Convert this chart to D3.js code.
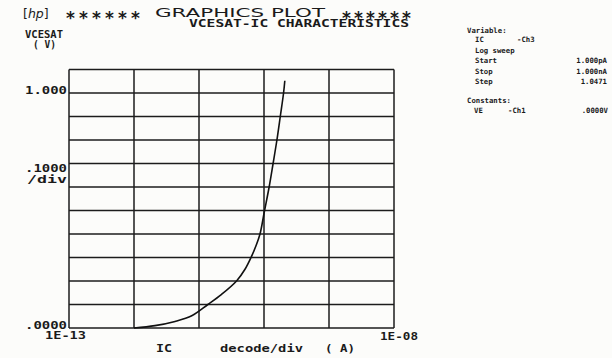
<!DOCTYPE html>
<html>
<head>
<meta charset="utf-8">
<script src="https://cdn.jsdelivr.net/npm/d3@7"></script>
<style>
  body { margin: 0; background: #fcfcfa; }
  svg { display: block; }
  text { fill: #1a1a1a; }
</style>
</head>
<body>
<div id="plot"></div>
<script>
// Canvas
const width = 612,
      height = 358

const icValues = [1e-12, 2.1e-12, 4.28e-12, 7.73e-12, 1.37e-11, 2.2e-11, 3.78e-11, 5.1e-11, 6.31e-11, 7.53e-11, 8.68e-11, 1.02e-10, 1.2e-10, 1.38e-10, 1.58e-10, 1.78e-10, 2.0e-10, 2.09e-10]
const vceValues = [0, 0.01, 0.028, 0.052, 0.1, 0.142, 0.2, 0.25, 0.3, 0.35, 0.4, 0.5, 0.6, 0.7, 0.8, 0.9, 1.0, 1.052]

// Axis ticks
const xDecades = [1e-13, 1e-12, 1e-11, 1e-10, 1e-9, 1e-8]
const xTickLabels = ['1E-13', '1E-08']
const yGrid = [0, 0.1, 0.2, 0.3, 0.4, 0.5, 0.6, 0.7, 0.8, 0.9, 1.0, 1.1]
const yTickValues = [0, 1.0]
const yTickLabels = ['.0000', '1.000']

// Right hand panel
const varRows = [
  ['IC', '-Ch3', ''],
  ['Log sweep', '', ''],
  ['Start', '', '1.000pA'],
  ['Stop', '', '1.000nA'],
  ['Step', '', '1.0471']
]
const constRows = [['VE', '-Ch1', '.0000V']]

const svg = d3.select('#plot')
  .append('svg')
  .attr('width', width)
  .attr('height', height)

const x = d3.scaleLog().domain([1e-13, 1e-8]).range([69, 394])
const y = d3.scaleLinear().domain([0, 1.1]).range([328, 69.5])

const mono = '"DejaVu Sans Mono", monospace'

// grid
const grid = svg.append('g').attr('stroke', '#1c1c1c').attr('stroke-width', 1.5)
grid.selectAll('line.v')
  .data(xDecades)
  .enter()
  .append('line')
  .attr('x1', d => x(d)).attr('x2', d => x(d))
  .attr('y1', y(1.1)).attr('y2', y(0))
grid.selectAll('line.h')
  .data(yGrid)
  .enter()
  .append('line')
  .attr('x1', x(1e-13)).attr('x2', x(1e-8))
  .attr('y1', d => y(d)).attr('y2', d => y(d))

// curve
const line = d3.line()
  .x((d, i) => x(icValues[i]))
  .y(d => y(d))
  .curve(d3.curveCatmullRom.alpha(0.5))
svg.append('path')
  .datum(vceValues)
  .attr('d', line)
  .attr('fill', 'none')
  .attr('stroke', '#111')
  .attr('stroke-width', 1.6)

// titles
const title = svg.append('g').attr('font-family', mono)
title.append('text').attr('x', 23).attr('y', 17.5)
  .attr('font-size', 12.5).attr('font-family', '"DejaVu Sans"')
  .html('[<tspan font-style="italic">hp</tspan>]')
title.append('text').attr('x', 66).attr('y', 24)
  .attr('font-size', 17).attr('font-weight', 'bold').attr('font-family', '"DejaVu Sans"')
  .attr('textLength', 74).attr('lengthAdjust', 'spacing')
  .text('******')
title.append('text').attr('x', 155).attr('y', 16.5)
  .attr('font-size', 12).attr('font-family', '"DejaVu Sans"')
  .attr('textLength', 170).attr('lengthAdjust', 'spacingAndGlyphs')
  .text('GRAPHICS PLOT')
title.append('text').attr('x', 342).attr('y', 24)
  .attr('font-size', 17).attr('font-weight', 'bold').attr('font-family', '"DejaVu Sans"')
  .attr('textLength', 69).attr('lengthAdjust', 'spacing')
  .text('******')
title.append('text').attr('x', 189).attr('y', 26.5)
  .attr('font-size', 10).attr('font-weight', 'bold')
  .attr('textLength', 220).attr('lengthAdjust', 'spacingAndGlyphs')
  .text('VCESAT-IC CHARACTERISTICS')

// axis labels
const lab = svg.append('g').attr('font-family', mono).attr('font-weight', 'bold').attr('font-size', 10)
const addLab = (t, xx, yy, w) => lab.append('text')
  .attr('x', xx).attr('y', yy)
  .attr('textLength', w).attr('lengthAdjust', 'spacingAndGlyphs')
  .text(t)

addLab('VCESAT', 25, 38, 38)
addLab('( V)', 33, 48, 23)
lab.selectAll('text.yt')
  .data(yTickValues)
  .enter()
  .append('text')
  .attr('x', 25)
  .attr('y', d => y(d) + 0.5)
  .attr('textLength', 42).attr('lengthAdjust', 'spacingAndGlyphs')
  .text((d, i) => yTickLabels[i])
addLab('.1000', 25, y(0.7) + 8.5, 42)
addLab('/div', 27, y(0.7) + 19, 40)

addLab(xTickLabels[0], x(1e-13) - 24, 338.5, 41)
addLab(xTickLabels[1], x(1e-8) - 14, 340, 38)
addLab('IC', 156, 352, 16)
addLab('decode/div', 220, 352, 83)
addLab('( A)', 325, 352, 30)

// right panel
const panel = svg.append('g').attr('font-family', mono).attr('font-weight', 'bold').attr('font-size', 7.3)
panel.append('text').attr('x', 467).attr('y', 33).text('Variable:')
panel.selectAll('text.vr')
  .data(varRows)
  .enter()
  .append('g')
  .each(function (d, i) {
    const g = d3.select(this)
    const yy = 42 + i * 10.5
    g.append('text').attr('x', 475).attr('y', yy).text(d[0])
    if (d[1]) g.append('text').attr('x', 517).attr('y', yy).text(d[1])
    if (d[2]) g.append('text').attr('x', 607).attr('y', yy).attr('text-anchor', 'end').text(d[2])
  })
panel.append('text').attr('x', 467).attr('y', 103).text('Constants:')
constRows.forEach((d, i) => {
  const yy = 113 + i * 10.5
  panel.append('text').attr('x', 474).attr('y', yy).text(d[0])
  panel.append('text').attr('x', 508).attr('y', yy).text(d[1])
  panel.append('text').attr('x', 608).attr('y', yy).attr('text-anchor', 'end').text(d[2])
})
</script>
</body>
</html>
